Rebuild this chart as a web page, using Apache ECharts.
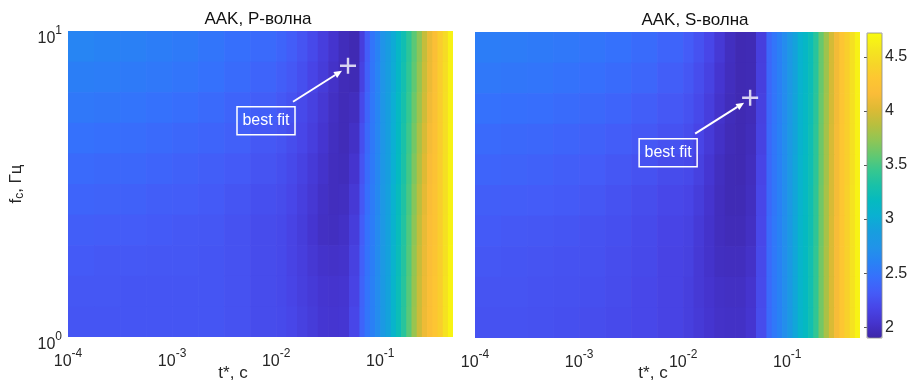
<!DOCTYPE html>
<html><head><meta charset="utf-8">
<script src="https://cdn.jsdelivr.net/npm/echarts@6/dist/echarts.min.js"></script>
<style>html,body{margin:0;padding:0;background:#fff}#c{width:911px;height:383px}</style>
</head><body><div id="c"></div>
<script>
// ---------- data ----------
const titles = ['AAK, P-волна', 'AAK, S-волна'];
const xAxisTitle = 't*, c';
// column edges, log10(t*, s)
const tEdgesLog = [-4, -3.75, -3.5, -3.25, -3, -2.75, -2.5, -2.25, -2, -1.9, -1.8, -1.7, -1.6, -1.5, -1.4, -1.3, -1.2,
  -1.15, -1.1, -1.05, -1, -0.95, -0.9, -0.85, -0.8, -0.75, -0.7, -0.65, -0.6, -0.55, -0.5, -0.45, -0.4, -0.35, -0.3];
// row edges, log10(fc, Hz), top to bottom
const fcEdgesLog = [1.0, 0.9, 0.8, 0.7, 0.6, 0.5, 0.4, 0.3, 0.2, 0.1, 0.0];
const xTicks = [1e-4, 1e-3, 1e-2, 1e-1];
const yTicks = [1, 10];
const cbTicks = [2, 2.5, 3, 3.5, 4, 4.5];
const cbMin = 1.9, cbMax = 4.72;
// misfit, rows top (fc=10) to bottom (fc=1)
const misfitP = [
  [2.62,2.60,2.58,2.56,2.54,2.50,2.46,2.42, 2.38,2.33,2.27,2.20,2.12,2.04,1.97,1.94, 2.12,2.33,2.50,2.60,2.75,2.86,2.98,3.12,3.25,3.40,3.56,3.72,3.92,4.08,4.20,4.36,4.48,4.65],
  [2.57,2.56,2.54,2.52,2.50,2.47,2.43,2.38, 2.34,2.30,2.24,2.17,2.10,2.02,1.96,1.95, 2.15,2.35,2.51,2.61,2.76,2.87,2.99,3.13,3.27,3.42,3.58,3.75,3.94,4.09,4.21,4.36,4.49,4.65],
  [2.52,2.51,2.49,2.47,2.45,2.42,2.38,2.34, 2.30,2.26,2.20,2.14,2.07,2.00,1.96,1.98, 2.20,2.38,2.52,2.62,2.77,2.88,3.01,3.15,3.29,3.44,3.61,3.78,3.96,4.11,4.22,4.36,4.50,4.65],
  [2.47,2.46,2.44,2.42,2.40,2.38,2.35,2.30, 2.27,2.23,2.18,2.12,2.05,1.99,1.96,2.01, 2.24,2.41,2.53,2.63,2.78,2.89,3.02,3.16,3.31,3.47,3.64,3.82,3.99,4.13,4.23,4.36,4.50,4.66],
  [2.42,2.41,2.40,2.38,2.36,2.34,2.31,2.27, 2.24,2.20,2.15,2.09,2.03,1.98,1.97,2.04, 2.27,2.43,2.54,2.64,2.79,2.89,3.03,3.17,3.32,3.49,3.67,3.85,4.02,4.15,4.24,4.36,4.51,4.66],
  [2.38,2.37,2.36,2.34,2.33,2.31,2.28,2.24, 2.22,2.18,2.13,2.07,2.01,1.98,1.99,2.08, 2.30,2.45,2.55,2.65,2.80,2.90,3.05,3.19,3.34,3.51,3.70,3.88,4.05,4.17,4.25,4.37,4.51,4.66],
  [2.34,2.33,2.32,2.31,2.30,2.29,2.26,2.22, 2.20,2.16,2.11,2.05,2.00,1.99,2.01,2.11, 2.33,2.47,2.56,2.66,2.80,2.91,3.06,3.20,3.35,3.53,3.72,3.91,4.07,4.18,4.26,4.37,4.52,4.66],
  [2.31,2.30,2.30,2.29,2.29,2.28,2.26,2.22, 2.20,2.16,2.12,2.07,2.03,2.02,2.03,2.14, 2.35,2.48,2.57,2.67,2.81,2.91,3.07,3.21,3.36,3.54,3.74,3.93,4.08,4.19,4.27,4.37,4.52,4.67],
  [2.29,2.29,2.28,2.28,2.28,2.28,2.26,2.22, 2.20,2.17,2.13,2.09,2.05,2.04,2.05,2.16, 2.37,2.49,2.58,2.68,2.82,2.92,3.08,3.22,3.37,3.55,3.75,3.94,4.09,4.20,4.28,4.37,4.53,4.67],
  [2.28,2.28,2.28,2.28,2.28,2.28,2.26,2.22, 2.21,2.18,2.14,2.10,2.06,2.05,2.06,2.18, 2.38,2.50,2.58,2.68,2.82,2.92,3.08,3.22,3.38,3.56,3.76,3.95,4.10,4.20,4.28,4.37,4.53,4.67]
];
const misfitS = [
  [2.56,2.55,2.54,2.52,2.50,2.47,2.43,2.38, 2.32,2.26,2.18,2.08,1.99,1.94,1.95,2.12, 2.40,2.50,2.58,2.68,2.80,2.92,3.05,3.13,3.22,3.38,3.60,3.78,3.98,4.12,4.28,4.38,4.52,4.65],
  [2.52,2.51,2.50,2.48,2.46,2.43,2.39,2.34, 2.29,2.23,2.15,2.05,1.98,1.94,1.95,2.13, 2.40,2.50,2.58,2.68,2.80,2.92,3.05,3.13,3.22,3.38,3.60,3.78,3.98,4.12,4.28,4.38,4.52,4.65],
  [2.47,2.46,2.45,2.43,2.41,2.38,2.34,2.30, 2.26,2.20,2.12,2.03,1.97,1.94,1.96,2.14, 2.40,2.50,2.58,2.68,2.80,2.93,3.06,3.14,3.23,3.39,3.61,3.79,3.98,4.12,4.28,4.38,4.52,4.65],
  [2.42,2.41,2.40,2.38,2.36,2.33,2.30,2.26, 2.23,2.17,2.09,2.01,1.96,1.94,1.97,2.15, 2.41,2.51,2.59,2.69,2.81,2.93,3.06,3.14,3.24,3.40,3.62,3.80,3.99,4.13,4.29,4.38,4.52,4.65],
  [2.38,2.37,2.36,2.34,2.32,2.29,2.26,2.22, 2.20,2.14,2.06,1.99,1.95,1.94,1.98,2.17, 2.41,2.51,2.59,2.69,2.81,2.94,3.07,3.15,3.24,3.40,3.62,3.80,3.99,4.13,4.29,4.38,4.52,4.65],
  [2.34,2.33,2.32,2.31,2.29,2.26,2.23,2.19, 2.17,2.11,2.04,1.98,1.95,1.95,1.99,2.18, 2.41,2.51,2.59,2.69,2.81,2.94,3.07,3.15,3.25,3.41,3.63,3.81,3.99,4.13,4.29,4.39,4.53,4.66],
  [2.31,2.30,2.29,2.28,2.26,2.24,2.21,2.17, 2.15,2.09,2.03,1.98,1.96,1.96,2.00,2.19, 2.42,2.52,2.60,2.70,2.82,2.95,3.08,3.16,3.25,3.41,3.63,3.81,4.00,4.14,4.30,4.39,4.53,4.66],
  [2.29,2.28,2.27,2.26,2.25,2.23,2.20,2.16, 2.14,2.08,2.03,1.99,1.98,1.98,2.02,2.20, 2.42,2.52,2.60,2.70,2.82,2.95,3.08,3.16,3.26,3.42,3.64,3.82,4.00,4.14,4.30,4.39,4.53,4.66],
  [2.27,2.27,2.26,2.25,2.24,2.22,2.19,2.16, 2.13,2.08,2.04,2.01,2.00,2.00,2.04,2.21, 2.42,2.52,2.60,2.70,2.82,2.95,3.08,3.16,3.26,3.42,3.64,3.82,4.00,4.14,4.30,4.39,4.53,4.66],
  [2.26,2.26,2.25,2.24,2.23,2.21,2.19,2.16, 2.13,2.09,2.05,2.02,2.01,2.01,2.05,2.22, 2.42,2.52,2.60,2.70,2.82,2.95,3.08,3.16,3.26,3.42,3.64,3.82,4.00,4.14,4.30,4.39,4.53,4.66]
];
const bestFitP = [0.049, 7.7];
const bestFitS = [0.044, 6.1];
const bestFitLabel = 'best fit';

// ---------- style ----------
const FONT = '"Liberation Sans", Arial, sans-serif';
const TXT = '#262626';
const parula = ['#3e26a8','#4534ce','#4846e8','#445cf8','#3670fc','#2883f4','#2094e8','#179ede','#0ab0d2','#05bac0',
  '#19c1a8','#37c78f','#64c870','#91c554','#b9bf3e','#ddba34','#fabc38','#fdc632','#f6d628','#f5e81e','#f9fb0e'];

function cells(rows) {
  const out = [];
  rows.forEach((row, i) => {
    row.forEach((v, j) => {
      out.push([Math.pow(10, tEdgesLog[j]), Math.pow(10, tEdgesLog[j + 1]),
                Math.pow(10, fcEdgesLog[i + 1]), Math.pow(10, fcEdgesLog[i]), v]);
    });
  });
  return out;
}
function renderCell(params, api) {
  const a = api.coord([api.value(0), api.value(2)]);
  const b = api.coord([api.value(1), api.value(3)]);
  const x = Math.min(a[0], b[0]), y = Math.min(a[1], b[1]);
  return { type: 'rect',
    shape: { x: x, y: y, width: Math.abs(b[0] - a[0]) + 0.7, height: Math.abs(b[1] - a[1]) + 0.7 },
    style: { fill: api.visual('color') } };
}
const powFmt = v => '{b|10}{e|' + Math.round(Math.log10(v)) + '}';
const powRich = {
  b: { fontSize: 16, fontFamily: FONT, color: TXT, lineHeight: 22, verticalAlign: 'bottom' },
  e: { fontSize: 12, fontFamily: FONT, color: TXT, lineHeight: 13, verticalAlign: 'top' }
};
const grids = [
  { left: 68, top: 31, width: 385, height: 306 },
  { left: 475, top: 32, width: 385, height: 306 },
  { left: 867, top: 33, width: 15, height: 305 }
];
function xAx(i) {
  return { type: 'log', logBase: 10, gridIndex: i, min: 1e-4, max: 0.5,
    axisLine: { show: false }, axisTick: { show: false }, splitLine: { show: false },
    axisLabel: { customValues: xTicks, formatter: powFmt, rich: powRich, margin: 11 } };
}
function yAx(i, showLabels) {
  const o = { type: 'log', logBase: 10, gridIndex: i, min: 1, max: 10,
    axisLine: { show: false }, axisTick: { show: false }, splitLine: { show: false },
    axisLabel: { show: showLabels, customValues: yTicks, formatter: powFmt, rich: powRich, margin: 6, padding: [10, 0, 0, 0] } };
  if (showLabels) {
    o.name = 'f{s|c}, Гц';
    o.nameLocation = 'middle';
    o.nameGap = 42;
    o.nameRotate = 90;
    o.nameTextStyle = { fontSize: 17, fontFamily: FONT, color: TXT,
      rich: { s: { fontSize: 12, fontFamily: FONT, color: TXT, padding: [8, 0, 0, 0] } } };
  }
  return o;
}
const plusPath = 'path://M6.8,0H9.2V6.8H16V9.2H9.2V16H6.8V9.2H0V6.8H6.8Z';

const chart = echarts.init(document.getElementById('c'), null, { renderer: 'canvas' });
chart.setOption({
  animation: false,
  backgroundColor: '#fff',
  grid: grids,
  xAxis: [xAx(0), xAx(1), { type: 'value', gridIndex: 2, show: false, min: 0, max: 1 }],
  yAxis: [yAx(0, true), yAx(1, false), {
    type: 'value', gridIndex: 2, min: cbMin, max: cbMax, position: 'right',
    axisLine: { show: false }, splitLine: { show: false },
    axisTick: { show: true, inside: true, length: 3, customValues: cbTicks, lineStyle: { color: '#555' } },
    axisLabel: { customValues: cbTicks, margin: 3, fontSize: 16, fontFamily: FONT, color: TXT }
  }],
  visualMap: {
    type: 'continuous', min: cbMin, max: cbMax, seriesIndex: [0, 1], dimension: 4,
    inRange: { color: parula }, left: 867, top: 33, itemWidth: 15, itemHeight: 305,
    calculable: false, text: null, padding: 0, orient: 'vertical', hoverLink: false
  },
  series: [
    { type: 'custom', xAxisIndex: 0, yAxisIndex: 0, renderItem: renderCell, clip: true,
      encode: { x: [0, 1], y: [2, 3] }, data: cells(misfitP), silent: true },
    { type: 'custom', xAxisIndex: 1, yAxisIndex: 1, renderItem: renderCell, clip: true,
      encode: { x: [0, 1], y: [2, 3] }, data: cells(misfitS), silent: true },
    { type: 'scatter', xAxisIndex: 0, yAxisIndex: 0, data: [bestFitP], symbol: plusPath, symbolSize: 16,
      itemStyle: { color: '#fff' }, silent: true, z: 5 },
    { type: 'scatter', xAxisIndex: 1, yAxisIndex: 1, data: [bestFitS], symbol: plusPath, symbolSize: 16,
      itemStyle: { color: '#fff' }, silent: true, z: 5 }
  ]
});

function annotation(p) {
  const cx = p[0], cy = p[1];
  const sx = cx - 55, sy = cy + 36, ex = cx - 6, ey = cy + 5;
  const dx = ex - sx, dy = ey - sy, L = Math.hypot(dx, dy), ux = dx / L, uy = dy / L;
  const hl = 8, hw = 3.5;
  const bx = ex - ux * hl, by = ey - uy * hl;
  return [
    { type: 'line', z: 10, shape: { x1: sx, y1: sy, x2: bx, y2: by }, style: { stroke: '#fff', lineWidth: 2 } },
    { type: 'polygon', z: 10, shape: { points: [[ex, ey], [bx - uy * hw, by + ux * hw], [bx + uy * hw, by - ux * hw]] }, style: { fill: '#fff' } },
    { type: 'rect', z: 10, shape: { x: cx - 82 - 29, y: cy + 55 - 14, width: 58, height: 28 }, style: { fill: 'none', stroke: '#fff', lineWidth: 1.5 } },
    { type: 'text', z: 10, x: cx - 82, y: cy + 55, style: { text: bestFitLabel, fill: '#fff', font: '16px ' + FONT, textAlign: 'center', textVerticalAlign: 'middle' } }
  ];
}
const pP = chart.convertToPixel({ gridIndex: 0 }, bestFitP);
const pS = chart.convertToPixel({ gridIndex: 1 }, bestFitS);
chart.setOption({
  graphic: [].concat(
    annotation(pP), annotation(pS),
    [
      { type: 'text', x: 258, y: 19, style: { text: titles[0], fill: '#111', font: '17px ' + FONT, textAlign: 'center', textVerticalAlign: 'middle' } },
      { type: 'text', x: 695, y: 20, style: { text: titles[1], fill: '#111', font: '17px ' + FONT, textAlign: 'center', textVerticalAlign: 'middle' } },
      { type: 'text', x: 233, y: 373, style: { text: xAxisTitle, fill: TXT, font: '17px ' + FONT, textAlign: 'center', textVerticalAlign: 'middle' } },
      { type: 'text', x: 653, y: 373, style: { text: xAxisTitle, fill: TXT, font: '17px ' + FONT, textAlign: 'center', textVerticalAlign: 'middle' } },
      { type: 'rect', z: 10, shape: { x: 867, y: 33, width: 15, height: 305 }, style: { fill: 'none', stroke: '#8a8a8a', lineWidth: 0.8 } }
    ]
  )
});
</script>
</body></html>
